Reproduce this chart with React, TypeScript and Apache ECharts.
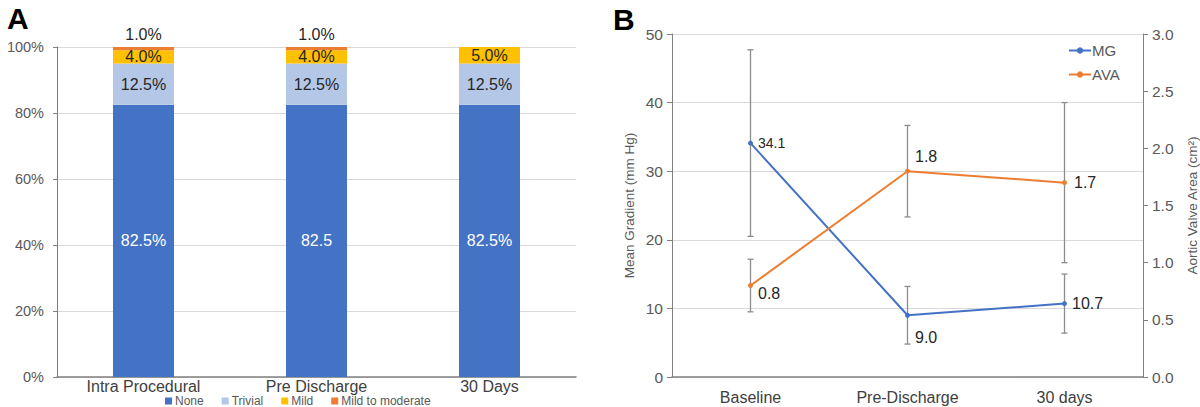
import React, { useEffect, useRef } from "react";
import * as echarts from "echarts";

// Panel A data
const stages = ["Intra Procedural", "Pre Discharge", "30 Days"];
const noneVals = [82.5, 82.5, 82.5];
const trivialVals = [12.5, 12.5, 12.5];
const mildVals = [4.0, 4.0, 5.0];
const mildModVals = [1.0, 1.0, 0];
const noneLabels = ["82.5%", "82.5", "82.5%"];
const pctTicks = [0, 20, 40, 60, 80, 100];

// Panel B data
const timepoints = ["Baseline", "Pre-Discharge", "30 days"];
const mgVals = [34.1, 9.0, 10.7];
const mgErr = [13.6, 4.2, 4.3];
const avaVals = [0.8, 1.8, 1.7];
const avaErr = [0.23, 0.4, 0.7];

const FONT = "Liberation Sans";
const TXT = "#404040";
const AX = "#595959";

function errorRender(color: string) {
  return (params: any, api: any) => {
    const x = api.value(0);
    const lo = api.value(1);
    const hi = api.value(2);
    const top = api.coord([x, hi]);
    const bot = api.coord([x, lo]);
    const hw = 3;
    const st = { stroke: color, lineWidth: 1.3 };
    return {
      type: "group",
      children: [
        { type: "line", shape: { x1: top[0], y1: top[1], x2: bot[0], y2: bot[1] }, style: st },
        { type: "line", shape: { x1: top[0] - hw, y1: top[1], x2: top[0] + hw, y2: top[1] }, style: st },
        { type: "line", shape: { x1: bot[0] - hw, y1: bot[1], x2: bot[0] + hw, y2: bot[1] }, style: st },
      ],
    };
  };
}

export default function App() {
  const ref = useRef<HTMLDivElement>(null);
  useEffect(() => {
    if (!ref.current) return;
    const chart = echarts.init(ref.current, null, { renderer: "svg" });

    const mgLabelPos = [
      { position: "right", offset: [0, 0], fontSize: 14 },
      { position: "right", offset: [0, 22], fontSize: 16 },
      { position: "right", offset: [0, 0], fontSize: 16 },
    ];
    const avaLabelPos = [
      { position: "right", offset: [0, 8], fontSize: 16 },
      { position: "right", offset: [0, -15], fontSize: 16 },
      { position: "right", offset: [2, 0], fontSize: 16 },
    ];

    const option: any = {
      animation: false,
      textStyle: { fontFamily: FONT },
      graphic: [
        { type: "text", left: 7, top: 3, style: { text: "A", font: `bold 30px ${FONT}`, fill: "#000" } },
        { type: "text", left: 613, top: 4, style: { text: "B", font: `bold 30px ${FONT}`, fill: "#000" } },
      ],
      legend: [
        {
          data: ["None", "Trivial", "Mild", "Mild to moderate"],
          left: 160,
          top: 390,
          itemWidth: 7,
          itemHeight: 7,
          itemGap: 18,
          icon: "rect",
          textStyle: { fontSize: 12, color: AX, fontFamily: FONT, padding: [0, 0, 0, -2] },
        },
        {
          data: ["MG", "AVA"],
          orient: "vertical",
          left: 1063,
          top: 38,
          itemWidth: 22,
          itemHeight: 8,
          itemGap: 9,
          textStyle: { fontSize: 15, color: AX, fontFamily: FONT, padding: [0, 0, 0, -4] },
        },
      ],
      grid: [
        { left: 57, top: 47, width: 519, height: 330 },
        { left: 672, top: 34, width: 473, height: 343 },
      ],
      xAxis: [
        {
          type: "category",
          gridIndex: 0,
          data: stages,
          axisLine: { lineStyle: { color: "#808080", width: 1.5 } },
          axisTick: { show: false },
          axisLabel: { fontSize: 16, color: TXT, margin: 1 },
        },
        {
          type: "category",
          gridIndex: 1,
          data: timepoints,
          axisLine: { lineStyle: { color: "#808080", width: 1.5 } },
          axisTick: { show: false },
          axisLabel: { fontSize: 16, color: TXT, margin: 12 },
        },
      ],
      yAxis: [
        {
          type: "value",
          gridIndex: 0,
          min: 0,
          max: 100,
          interval: 20,
          axisLine: { show: true, lineStyle: { color: "#808080" } },
          axisTick: { show: true, length: 4, lineStyle: { color: "#808080" } },
          axisLabel: {
            fontSize: 14.5,
            color: AX,
            margin: 13,
            formatter: (v: number) => (pctTicks.includes(v) ? `${v}%` : ""),
          },
          splitLine: { lineStyle: { color: "#d9d9d9" } },
        },
        {
          type: "value",
          gridIndex: 1,
          min: 0,
          max: 50,
          interval: 10,
          name: "Mean Gradient (mm Hg)",
          nameLocation: "middle",
          nameRotate: 90,
          nameGap: 36,
          nameTextStyle: { fontSize: 13.5, color: AX },
          axisLine: { show: true, lineStyle: { color: "#808080" } },
          axisTick: { show: true, length: 5, lineStyle: { color: "#808080" } },
          axisLabel: { fontSize: 15.5, color: AX, margin: 9 },
          splitLine: { lineStyle: { color: "#d9d9d9" } },
        },
        {
          type: "value",
          gridIndex: 1,
          position: "right",
          min: 0,
          max: 3.0,
          interval: 0.5,
          name: "Aortic Valve Area (cm²)",
          nameLocation: "middle",
          nameRotate: 90,
          nameGap: 42,
          nameTextStyle: { fontSize: 13.5, color: AX },
          axisLine: { show: true, lineStyle: { color: "#808080" } },
          axisTick: { show: true, length: 5, lineStyle: { color: "#808080" } },
          axisLabel: { fontSize: 15.5, color: AX, margin: 9, formatter: (v: number) => v.toFixed(1) },
          splitLine: { show: false },
        },
      ],
      series: [
        {
          name: "None",
          type: "bar",
          stack: "a",
          xAxisIndex: 0,
          yAxisIndex: 0,
          barWidth: 61,
          data: noneVals,
          itemStyle: { color: "#4472C4" },
          label: {
            show: true,
            position: "inside",
            color: "#fff",
            fontSize: 16,
            formatter: (p: any) => noneLabels[p.dataIndex],
          },
        },
        {
          name: "Trivial",
          type: "bar",
          stack: "a",
          xAxisIndex: 0,
          yAxisIndex: 0,
          data: trivialVals,
          itemStyle: { color: "#B4C7E7" },
          label: { show: true, position: "inside", color: "#262626", fontSize: 16, formatter: (p: any) => `${p.value.toFixed(1)}%` },
        },
        {
          name: "Mild",
          type: "bar",
          stack: "a",
          xAxisIndex: 0,
          yAxisIndex: 0,
          data: mildVals,
          itemStyle: { color: "#FFC000" },
          label: { show: true, position: "inside", color: "#262626", fontSize: 16, formatter: (p: any) => `${p.value.toFixed(1)}%` },
        },
        {
          name: "Mild to moderate",
          type: "bar",
          stack: "a",
          xAxisIndex: 0,
          yAxisIndex: 0,
          data: mildModVals,
          itemStyle: { color: "#ED7D31" },
          label: {
            show: true,
            position: "top",
            distance: 5,
            color: "#262626",
            fontSize: 16,
            formatter: (p: any) => (p.value > 0 ? `${p.value.toFixed(1)}%` : ""),
          },
        },
        {
          name: "mgErr",
          type: "custom",
          xAxisIndex: 1,
          yAxisIndex: 1,
          z: 1,
          renderItem: errorRender("#8c8c8c"),
          encode: { x: 0, y: [1, 2] },
          data: mgVals.map((v, i) => [i, v - mgErr[i], v + mgErr[i]]),
          silent: true,
        },
        {
          name: "avaErr",
          type: "custom",
          xAxisIndex: 1,
          yAxisIndex: 2,
          z: 1,
          renderItem: errorRender("#8c8c8c"),
          encode: { x: 0, y: [1, 2] },
          data: avaVals.map((v, i) => [i, v - avaErr[i], v + avaErr[i]]),
          silent: true,
        },
        {
          name: "MG",
          type: "line",
          xAxisIndex: 1,
          yAxisIndex: 1,
          z: 3,
          symbol: "circle",
          symbolSize: 5,
          color: "#4472C4",
          lineStyle: { width: 2, color: "#4472C4" },
          itemStyle: { color: "#4472C4" },
          data: mgVals.map((v, i) => ({
            value: v,
            label: {
              show: true,
              position: mgLabelPos[i].position,
              offset: mgLabelPos[i].offset,
              fontSize: mgLabelPos[i].fontSize,
              color: "#262626",
              formatter: (p: any) => p.value.toFixed(1),
            },
          })),
        },
        {
          name: "AVA",
          type: "line",
          xAxisIndex: 1,
          yAxisIndex: 2,
          z: 3,
          symbol: "circle",
          symbolSize: 5,
          color: "#ED7D31",
          lineStyle: { width: 2, color: "#ED7D31" },
          itemStyle: { color: "#ED7D31" },
          data: avaVals.map((v, i) => ({
            value: v,
            label: {
              show: true,
              position: avaLabelPos[i].position,
              offset: avaLabelPos[i].offset,
              fontSize: avaLabelPos[i].fontSize,
              color: "#262626",
              formatter: (p: any) => p.value.toFixed(1),
            },
          })),
        },
      ],
    };
    chart.setOption(option);
    return () => chart.dispose();
  }, []);

  return (
    <div
      ref={ref}
      style={{ position: "fixed", left: 0, top: 0, width: 1200, height: 407, background: "#fff" }}
    />
  );
}
